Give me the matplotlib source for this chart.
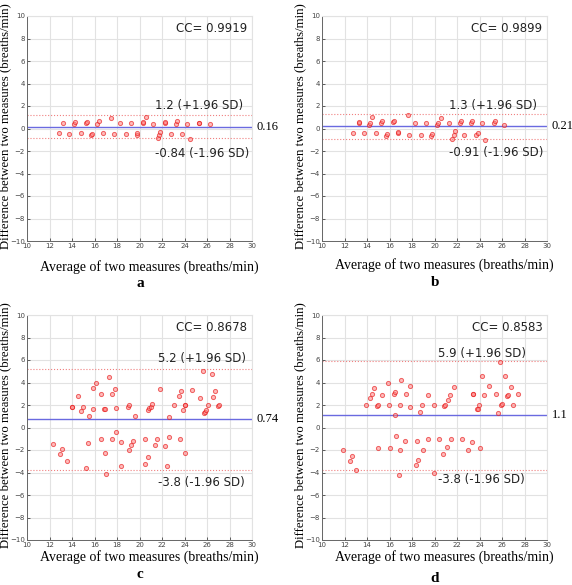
import matplotlib
matplotlib.use("Agg")
import matplotlib.pyplot as plt

# ---- panel a ----
a_avg = [13.23, 14.2, 14.3, 15.2, 15.3, 16.2, 16.4, 17.47, 18.27, 19.24, 20.27, 20.3,
         20.55, 21.23, 22.25, 22.3, 23.2, 23.3, 24.25, 25.25, 25.3, 26.27,
         12.87, 13.76, 14.77, 15.7, 15.75, 16.78, 17.76, 18.77, 19.75, 19.8,
         21.64, 21.73, 21.8, 22.77, 23.8, 24.49]
a_diff = [0.46, 0.4, 0.6, 0.46, 0.56, 0.4, 0.7, 0.93, 0.46, 0.46, 0.46, 0.55,
          0.99, 0.4, 0.5, 0.58, 0.4, 0.7, 0.4, 0.46, 0.5, 0.4,
          -0.37, -0.52, -0.43, -0.6, -0.5, -0.43, -0.49, -0.49, -0.6, -0.43,
          -0.84, -0.6, -0.34, -0.52, -0.49, -0.96]

# ---- panel b ----
b_avg = [13.29, 13.3, 14.18, 14.3, 14.47, 15.24, 15.36, 16.34, 16.43, 17.6, 18.3, 19.24,
         20.25, 20.34, 20.55, 21.29, 22.27, 22.39, 23.24, 23.36, 24.25, 25.26, 25.35, 26.21,
         12.79, 13.76, 14.8, 15.66, 15.78, 16.72, 16.78, 17.73, 18.77, 19.69, 19.8,
         21.58, 21.75, 21.82, 22.65, 23.72, 23.84, 24.49]
b_diff = [0.52, 0.6, 0.34, 0.52, 0.99, 0.52, 0.67, 0.58, 0.67, 1.17, 0.46, 0.46,
          0.31, 0.52, 0.93, 0.46, 0.46, 0.7, 0.52, 0.7, 0.46, 0.46, 0.64, 0.34,
          -0.43, -0.43, -0.37, -0.67, -0.49, -0.43, -0.31, -0.58, -0.55, -0.67, -0.49,
          -0.96, -0.61, -0.19, -0.61, -0.58, -0.37, -1.02]

# ---- panel c ----
c_avg = [13.96, 13.98, 14.49, 14.84, 14.96, 15.55, 15.85, 15.85, 16.09, 16.56, 16.86, 16.91,
         17.33, 17.56, 17.8, 17.92, 18.98, 19.1, 19.57, 20.75, 20.87, 20.99, 21.1, 21.82,
         22.59, 23.06, 23.47, 23.65, 23.83, 24.04, 24.08, 24.71, 25.42, 25.6, 25.72, 25.78,
         25.9, 26.07, 26.43, 26.49, 26.72, 27.0, 27.04,
         12.3, 12.9, 13.07, 13.55, 15.26, 15.44, 16.56, 16.91, 17.03, 17.92, 17.56, 18.33,
         18.39, 19.1, 19.28, 19.45, 20.46, 20.52, 20.75, 21.34, 21.58, 22.23, 22.41, 22.64,
         23.59, 24.0]
c_diff = [1.85, 1.79, 2.8, 1.5, 1.79, 1.02, 1.61, 3.48, 3.99, 2.98, 1.61, 1.67,
          4.52, 2.98, 3.45, 1.7, 1.79, 1.97, 1.02, 1.55, 1.7, 1.85, 2.06, 3.42,
          0.96, 1.97, 2.8, 3.21, 1.55, 1.97, 2.0, 3.33, 2.65, 5.02, 1.26, 1.38,
          1.55, 1.97, 4.73, 2.74, 3.21, 1.95, 2.0,
          -1.5, -2.39, -1.94, -3.01, -3.63, -1.35, -0.99, -2.3, -4.1, -0.4, -0.99, -3.42,
          -1.32, -2.03, -1.59, -1.23, -3.24, -0.99, -2.62, -1.53, -0.99, -1.67, -3.45, -0.81,
          -0.99, -2.24]

# ---- panel d ----
d_avg = [13.94, 14.3, 14.41, 14.65, 14.89, 14.95, 15.36, 15.9, 15.96, 16.43, 16.49, 16.49,
         16.9, 17.05, 17.44, 17.79, 17.85, 18.68, 18.92, 19.39, 19.93, 20.87, 20.93, 21.23,
         21.41, 21.76, 23.4, 23.44, 23.78, 23.84, 23.96, 24.25, 24.43, 24.84, 25.44, 25.61,
         25.85, 25.91, 26.03, 26.27, 26.44, 26.5, 26.8, 26.98, 27.45,
         11.87, 12.46, 12.64, 13.05, 15.0, 16.01, 16.55, 16.9, 16.84, 17.38, 18.39, 18.5,
         18.44, 18.98, 19.45, 19.93, 20.4, 20.76, 21.11, 21.47, 22.47, 23.01, 23.36, 24.01]
d_diff = [1.96, 2.64, 2.94, 3.5, 1.88, 1.96, 2.88, 3.94, 1.96, 2.97, 3.15, 1.11,
          1.96, 4.18, 2.96, 3.68, 1.82, 1.37, 1.96, 2.91, 1.96, 1.9, 1.96, 2.47,
          2.91, 3.56, 2.94, 3.0, 1.64, 1.67, 1.96, 4.62, 2.91, 3.68, 2.94, 1.25,
          5.86, 1.96, 2.05, 4.62, 2.82, 2.91, 3.62, 1.96, 2.96,
          -2.02, -2.97, -2.56, -3.74, -1.85, -1.85, -0.75, -2.02, -4.24, -1.23, -3.32, -2.91,
          -1.17, -2.02, -0.99, -4.03, -0.99, -2.32, -1.7, -0.99, -0.99, -1.96, -1.27, -1.85]

panel_letters = ["a", "b", "c", "d"]
mean_diff = [0.16, 0.21, 0.74, 1.07]
upper_loa = [1.2, 1.3, 5.22, 5.92]
lower_loa = [-0.84, -0.91, -3.77, -3.8]
mean_text = ["0.16", "0.21", "0.74", "1.1"]
upper_text = ["1.2 (+1.96 SD)", "1.3 (+1.96 SD)", "5.2 (+1.96 SD)", "5.9 (+1.96 SD)"]
lower_text = ["-0.84 (-1.96 SD)", "-0.91 (-1.96 SD)", "-3.8 (-1.96 SD)", "-3.8 (-1.96 SD)"]
cc_text = ["CC= 0.9919", "CC= 0.9899", "CC= 0.8678", "CC= 0.8583"]

avgs = [a_avg, b_avg, c_avg, d_avg]
diffs = [a_diff, b_diff, c_diff, d_diff]

W, H = 572, 585
fig = plt.figure(figsize=(W / 100, H / 100), dpi=100)

# axes boxes in pixels: left, top
boxes = [(27, 16), (322, 16), (27, 315), (322, 315)]
size = 225
xlabel_y = [267, 265, 557, 557]
letter_base = [287, 286, 578, 582]
sd_label_x = [21.38, 21.3, 21.6, 20.35]
sd_up_off = [0.8, 0.75, 0.95, 0.7]
sd_lo_off = [-1.35, -1.25, -1.1, -0.8]
grid_col = "#e2e2e2"
serif = "Liberation Serif"
ann_size = 8.5

for i in range(4):
    left, top = boxes[i]
    ax = fig.add_axes([left / W, 1 - (top + size) / H, size / W, size / H])
    ax.set_xlim(10, 30)
    ax.set_ylim(-10, 10)
    ax.set_xticks(range(10, 31, 2))
    ax.set_yticks(range(-10, 11, 2))
    ax.grid(True, color=grid_col, linewidth=0.8)
    ax.set_axisbelow(True)
    ax.tick_params(labelsize=5, colors="#444444", direction="in", length=2, width=0.6, pad=1.5)
    for s in ["top", "right"]:
        ax.spines[s].set_color(grid_col)
    for s in ["left", "bottom"]:
        ax.spines[s].set_color("#666666")
        ax.spines[s].set_linewidth(0.7)

    ax.axhline(upper_loa[i], color="#f08080", linestyle=":", linewidth=0.8)
    ax.axhline(lower_loa[i], color="#f08080", linestyle=":", linewidth=0.8)
    ax.axhline(mean_diff[i], color="#6a6ae0", linewidth=1.0)

    ax.plot(avgs[i], diffs[i], "o", markersize=3.0,
            markerfacecolor=(1.0, 0.5, 0.5, 0.55),
            markeredgecolor=(0.9, 0.1, 0.1, 0.65), markeredgewidth=0.7)

    ax.text(29.6, 8.9, cc_text[i], ha="right", va="center", fontsize=ann_size, color="#222222")
    ax.text(sd_label_x[i], upper_loa[i] + sd_up_off[i], upper_text[i],
            ha="left", va="center", fontsize=ann_size, color="#222222")
    ax.text(sd_label_x[i], lower_loa[i] + sd_lo_off[i], lower_text[i],
            ha="left", va="center", fontsize=ann_size, color="#222222")
    ax.text(30.4, mean_diff[i], mean_text[i], ha="left", va="center",
            fontsize=9, family=serif, clip_on=False)

    # axis labels and panel letter
    fig.text((left - 22) / W, 1 - (top + 110) / H,
             "Difference between two measures (breaths/min)",
             rotation=90, ha="center", va="center", fontsize=9.2, family=serif)
    fig.text((left + 122) / W, 1 - xlabel_y[i] / H,
             "Average of two measures (breaths/min)",
             ha="center", va="center", fontsize=10, family=serif)
    fig.text((left + 113) / W, 1 - letter_base[i] / H, panel_letters[i],
             ha="center", va="baseline", fontsize=11, family=serif, fontweight="bold")

fig.savefig("out.png", dpi=100, facecolor="white")
